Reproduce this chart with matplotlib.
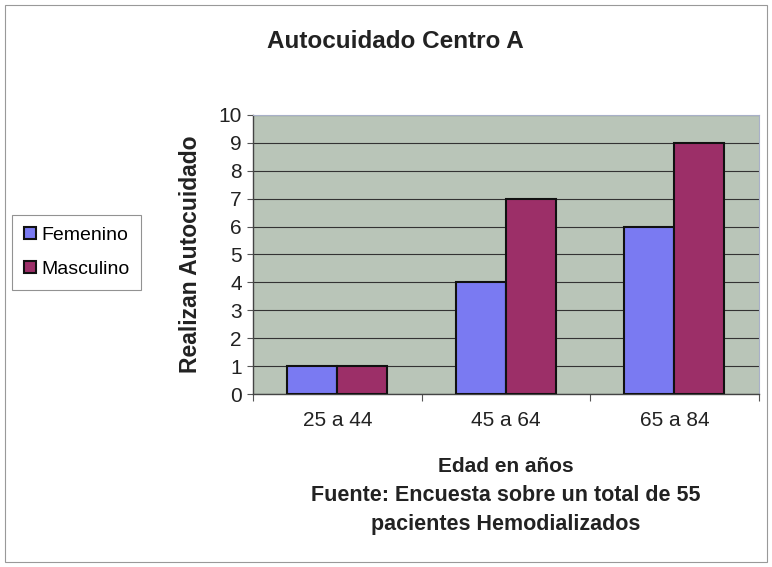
import matplotlib
matplotlib.use("Agg")
import matplotlib.pyplot as plt
import numpy as np
from matplotlib.patches import Rectangle

categories = ["25 a 44", "45 a 64", "65 a 84"]
femenino = [1, 4, 6]
masculino = [1, 7, 9]
yticks = list(range(0, 11))

plt.rcParams['font.family'] = ['Liberation Sans', 'DejaVu Sans']

fig = plt.figure(figsize=(7.72, 5.67), dpi=100)
fig.patch.set_facecolor('white')
fig.patches.append(Rectangle((0.006, 0.008), 0.988, 0.983, transform=fig.transFigure,
                             fill=False, edgecolor='#999999', linewidth=0.8))

ax = fig.add_axes([0.3277, 0.3051, 0.655, 0.4921])
ax.set_facecolor('#b9c5b8')

x = np.arange(len(categories))
w = 0.296
ax.bar(x - w / 2, femenino, width=w, color='#7a7af2', edgecolor='#111111', linewidth=1.5,
       label='Femenino', zorder=3)
ax.bar(x + w / 2, masculino, width=w, color='#9c2f68', edgecolor='#111111', linewidth=1.5,
       label='Masculino', zorder=3)

ax.set_xlim(-0.5, len(categories) - 0.5)
ax.set_ylim(0, 10)
ax.set_yticks(yticks)
ax.set_yticklabels([str(v) for v in yticks], fontsize=15, color='#222222')
ax.yaxis.grid(True, color='#333333', linewidth=0.8, zorder=1)
ax.set_axisbelow(True)

ax.set_xticks(np.arange(-0.5, len(categories), 1.0))
ax.set_xticklabels([])
ax.set_xticks(x, minor=True)
ax.set_xticklabels(categories, minor=True, fontsize=15, color='#222222')
ax.tick_params(axis='x', which='minor', length=0, pad=12)
ax.tick_params(axis='x', which='major', length=5, color='#555555', direction='out')
ax.tick_params(axis='y', length=4, color='#555555', pad=4)

for s in ['left', 'bottom']:
    ax.spines[s].set_color('#444444')
    ax.spines[s].set_linewidth(1.0)
for s in ['top', 'right']:
    ax.spines[s].set_color('#a8b0c8')
    ax.spines[s].set_linewidth(0.8)

ax.set_ylabel('Realizan Autocuidado', fontsize=16.5, fontweight='bold', color='#222222',
              labelpad=12)

fig.text(0.512, 0.926, 'Autocuidado Centro A', ha='center', va='center',
         fontsize=17.5, fontweight='bold', color='#222222')
fig.text(0.655, 0.178, 'Edad en años', ha='center', va='center',
         fontsize=15, fontweight='bold', color='#222222')
fig.text(0.655, 0.126, 'Fuente: Encuesta sobre un total de 55', ha='center', va='center',
         fontsize=15.5, fontweight='bold', color='#222222')
fig.text(0.655, 0.075, 'pacientes Hemodializados', ha='center', va='center',
         fontsize=15.5, fontweight='bold', color='#222222')

leg = fig.legend(loc='center left', bbox_to_anchor=(0.016, 0.555), fontsize=14,
                 frameon=True, fancybox=False, edgecolor='#777777', handlelength=0.6,
                 handleheight=0.6, handletextpad=0.3, labelspacing=0.9,
                 borderpad=0.6, borderaxespad=0)
leg.get_frame().set_linewidth(0.8)

fig.savefig('out.png', dpi=100)
